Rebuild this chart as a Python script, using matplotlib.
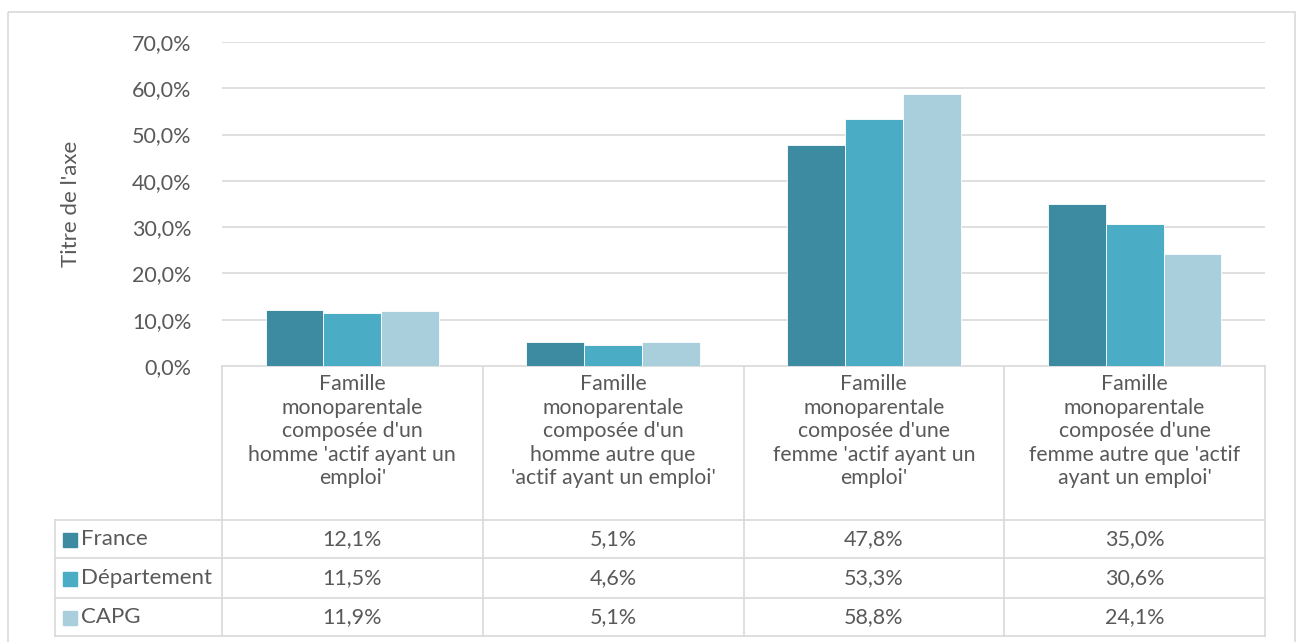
import matplotlib
matplotlib.use("Agg")
import matplotlib.pyplot as plt
from matplotlib.patches import Rectangle
import numpy as np

# ---- data ----
categories = [
    "Famille\nmonoparentale\ncomposée d'un\nhomme 'actif ayant un\nemploi'",
    "Famille\nmonoparentale\ncomposée d'un\nhomme autre que\n'actif ayant un emploi'",
    "Famille\nmonoparentale\ncomposée d'une\nfemme 'actif ayant un\nemploi'",
    "Famille\nmonoparentale\ncomposée d'une\nfemme autre que 'actif\nayant un emploi'",
]
series_names = ["France", "Département", "CAPG"]
france = [12.1, 5.1, 47.8, 35.0]
departement = [11.5, 4.6, 53.3, 30.6]
capg = [11.9, 5.1, 58.8, 24.1]
colors = ["#3C8BA1", "#4BACC6", "#A9CFDD"]

TXT = "#595959"
GRID = "#D9D9D9"
plt.rcParams["font.family"] = ["Lato", "DejaVu Sans"]

W, H = 1300, 642
fig = plt.figure(figsize=(W / 100, H / 100), dpi=100)

# plot area in pixel coordinates
x0, x1 = 222, 1265
y_top, y_zero = 42, 366
ax = fig.add_axes([x0 / W, 1 - y_zero / H, (x1 - x0) / W, (y_zero - y_top) / H])

values = [france, departement, capg]
n = len(categories)
idx = np.arange(n)
bw = 0.222
for k, (name, vals) in enumerate(zip(series_names, values)):
    ax.bar(idx + (k - 1) * bw, vals, width=bw, color=colors[k],
           edgecolor="white", linewidth=0.6, label=name, zorder=3)

ax.set_xlim(-0.5, n - 0.5)
ax.set_ylim(0, 70)
ax.set_yticks(np.arange(0, 71, 10))
ax.set_yticklabels([f"{v:.1f}%".replace(".", ",") for v in np.arange(0, 71, 10)],
                   color=TXT, fontsize=15.5)
ax.tick_params(axis="y", length=0, pad=22)
ax.set_xticks([])
ax.grid(axis="y", color=GRID, linewidth=1.2, zorder=0)
for s in ax.spines.values():
    s.set_visible(False)
ax.set_ylabel("Titre de l'axe", color=TXT, fontsize=16, labelpad=37)

# ---- data table drawn underneath, in pixel coordinates ----
ov = fig.add_axes([0, 0, 1, 1], zorder=-1)
ov.set_xlim(0, W)
ov.set_ylim(H, 0)
ov.axis("off")

# outer chart frame
ov.add_patch(Rectangle((8, 12), 1287, 640, fill=False, edgecolor=GRID, linewidth=1.2))

col_w = (x1 - x0) / n
col_edges = [x0 + i * col_w for i in range(n + 1)]
row_edges = [366, 520, 558, 598, 636]
tx0 = 55

lw = 1.2
for xe in col_edges:
    ov.plot([xe, xe], [row_edges[0], row_edges[-1]], color=GRID, lw=lw)
ov.plot([tx0, tx0], [row_edges[1], row_edges[-1]], color=GRID, lw=lw)
ov.plot([x0, x1], [row_edges[0], row_edges[0]], color=GRID, lw=lw)
for ye in row_edges[1:]:
    ov.plot([tx0, x1], [ye, ye], color=GRID, lw=lw)

for i, cat in enumerate(categories):
    cx = (col_edges[i] + col_edges[i + 1]) / 2
    ov.text(cx, 374, cat, ha="center", va="top", color=TXT, fontsize=15.3,
            linespacing=1.22)

for r, (name, vals) in enumerate(zip(series_names, values)):
    cy = (row_edges[r + 1] + row_edges[r + 2]) / 2
    ov.add_patch(Rectangle((63, cy - 6), 14, 14, color=colors[r]))
    ov.text(81, cy, name, ha="left", va="center", color=TXT, fontsize=16)
    for i, v in enumerate(vals):
        cx = (col_edges[i] + col_edges[i + 1]) / 2
        ov.text(cx, cy, f"{v:.1f}%".replace(".", ","), ha="center", va="center",
                color=TXT, fontsize=15.5)

fig.savefig("out.png", dpi=100, facecolor="white")
